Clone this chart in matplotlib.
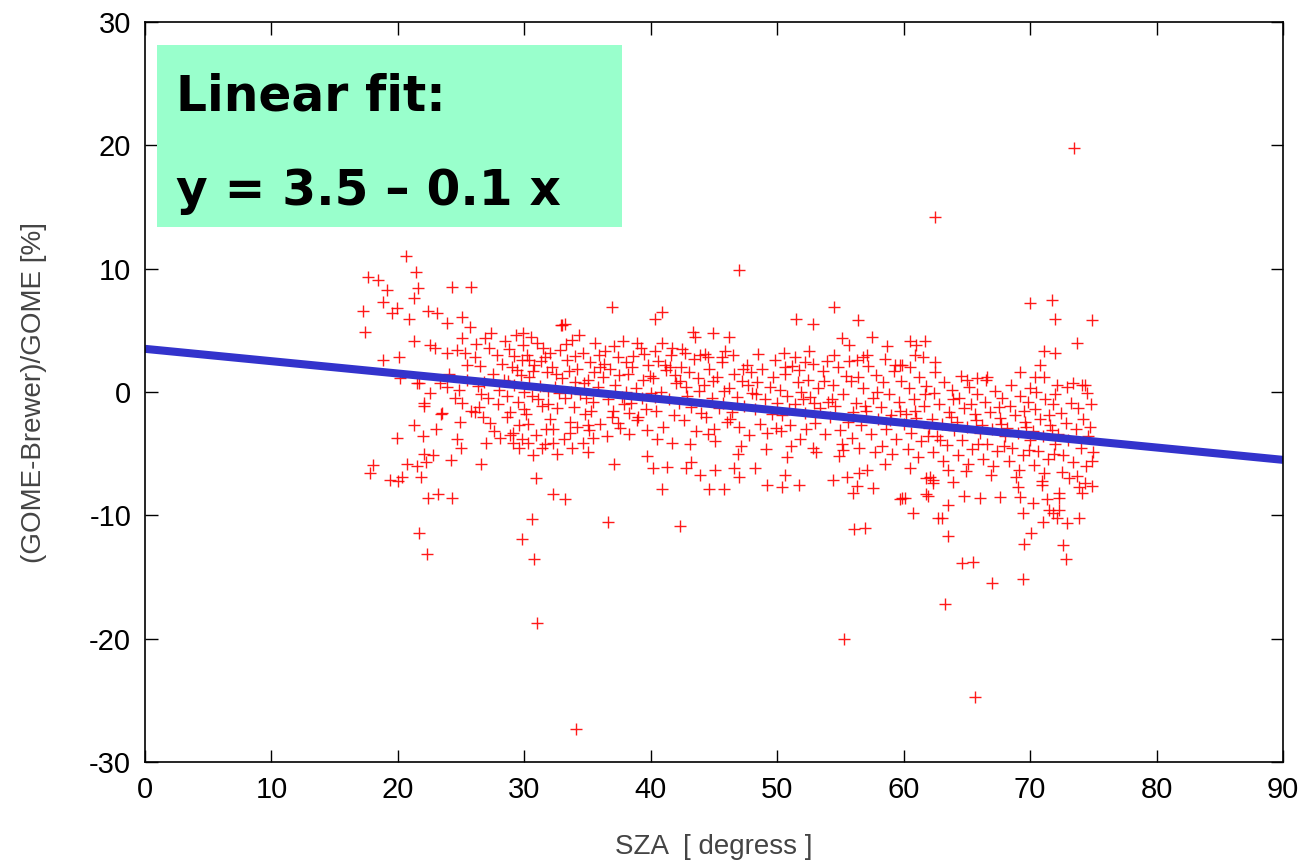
import matplotlib
matplotlib.use("Agg")
import matplotlib.pyplot as plt
from matplotlib.patches import Rectangle

# points, grouped by SZA range  (sza [deg], diff [%])
left_pts = [(17.6,9.3),(18.4,9.1),(20.6,11.0),(21.4,9.7),(19.1,8.3),(21.6,8.4),(21.3,7.6),(18.8,7.3),
    (24.3,8.5),(25.8,8.5),(17.2,6.6),(17.4,4.9),(19.5,6.4),(19.9,6.8),(20.9,5.9),(22.4,6.6),(23.1,6.4),
    (23.9,5.6),(25.1,6.1),(25.7,5.3),(21.3,4.1),(22.5,3.8),(22.9,3.6),(18.8,2.6),(20.1,2.8),(20.2,1.1),
    (21.5,0.7),(21.7,0.7),(22.5,-0.1),(22.1,-0.9),(21.3,-2.7),(23.5,-1.7),(24.9,-2.4),(23.9,3.2),(24.7,3.4),
    (25.3,3.2),(25.1,4.4),(23.3,0.7),(23.9,0.4),(21.7,-11.4),(22.3,-13.1),(18.0,-5.9),(17.8,-6.6),(19.4,-7.1),
    (20.0,-7.2),(20.3,-6.9),(21.8,-6.9),(20.7,-5.8),(21.5,-6.0),(22.2,-5.7),(22.8,-5.1),(22.1,-5.0),(19.9,-3.7),
    (22.0,-3.6),(23.4,-1.8),(24.7,-3.8),(25.0,-4.5),(22.4,-8.6),(23.2,-8.3),(24.3,-8.6),(22.1,-1.1),(25.1,-0.9),
    (24.0,1.5),(24.5,-0.5),(25.5,1.0),(25.8,-1.5),(23.0,-3.0),(24.2,-5.5),(25.5,2.2),(24.8,0.2)]

core_a = [(26.2,3.9),(26.5,2.1),(26.8,0.8),(27.1,-0.5),(26.4,-1.2),(27.5,1.5),(27.8,3.0),(26.9,4.4),(27.3,-2.5),
    (28.0,0.2),(27.6,-3.2),(26.1,2.8),(28.2,2.3),(27.9,-1.0),(26.6,-0.2),(27.2,3.6),(28.4,1.0),(28.6,-2.0),
    (26.3,0.5),(27.4,4.8),(28.8,3.5),(29.0,2.0),(29.2,0.6),(29.5,-0.8),(28.9,-1.6),(29.7,1.4),(29.9,3.8),
    (29.3,4.6),(29.6,-2.7),(30.0,0.0),(28.7,0.9),(29.1,-3.3),(29.8,2.6),(28.5,4.1),(29.4,1.8),(30.0,-1.4),
    (29.9,4.8),(28.6,-0.3),(29.2,2.9),(29.8,-3.8),(30.2,3.0),(30.4,1.2),(30.6,-0.3),(30.8,2.2),(31.0,4.0),
    (31.2,0.5),(31.4,-1.1),(31.6,2.8),(31.8,1.6),(32.0,-2.2),(30.3,-2.6),(30.9,-3.5),(31.5,3.6),(31.1,-0.6),
    (30.5,4.5),(31.9,0.1),(30.7,1.7),(31.3,2.5),(31.7,-3.0),(32.0,3.2),(30.1,-1.8),(31.6,-4.2),(30.4,2.6),
    (31.9,-1.0),(32.2,2.0),(32.4,0.4),(32.6,-1.3),(32.8,3.4),(33.0,1.1),(33.2,-0.5),(33.4,2.6),(33.6,-2.4),
    (33.8,4.2),(34.0,0.8),(32.3,-3.0),(32.9,5.4),(33.1,-3.8),(33.5,1.7),(33.9,-1.2),(32.5,1.5),(33.7,0.0),
    (34.0,2.9),(32.7,-0.1),(33.3,3.9),(34.2,1.9),(34.4,-0.2),(34.6,3.2),(34.8,-1.8),(35.0,1.0),(35.2,2.4),
    (35.4,-0.8),(35.6,4.0),(35.8,0.4),(36.0,-2.6),(34.3,4.6),(35.1,-3.1),(35.5,1.6),(35.9,3.0),(34.7,0.7),
    (35.3,-1.5),(36.0,2.0),(34.9,-0.5),(36.2,1.2),(36.4,3.3),(36.6,-0.6),(36.8,1.9),(37.0,-1.5),(37.2,0.6),
    (37.4,2.8),(37.6,-2.9),(37.8,4.1),(38.0,0.0),(36.5,-3.6),(37.1,3.7),(37.5,1.4),(37.9,-1.0),(36.3,2.3),
    (37.7,-0.4),(36.9,-2.0),(38.0,2.4),(38.2,1.5),(38.4,-0.9),(38.6,2.9),(38.8,0.3),(39.0,-2.0),(39.2,3.6),
    (39.4,1.0),(39.6,-1.4),(39.8,2.2),(40.0,-0.1),(38.3,-3.4),(38.9,4.0),(39.3,-0.5),(39.7,-3.1),(38.5,2.0),
    (39.9,1.3)]

core_b = [(40.2,1.1),(40.4,-1.5),(40.6,2.5),(40.8,0.0),(41.0,-2.8),(41.2,1.8),(41.4,-0.6),(41.6,3.0),(41.8,-1.9),
    (42.0,0.7),(40.5,-3.8),(41.1,2.2),(41.7,-4.1),(40.9,4.0),(41.9,1.4),(40.3,-0.4),(42.2,-0.9),(42.4,2.0),
    (42.6,-2.3),(42.8,0.4),(43.0,1.6),(43.2,-1.2),(43.4,2.7),(43.6,-3.2),(43.8,0.1),(44.0,-1.7),(42.5,3.5),
    (43.1,-4.2),(43.7,1.1),(42.3,0.9),(43.9,3.0),(42.9,-0.3),(44.2,0.6),(44.4,-2.0),(44.6,1.9),(44.8,-0.5),
    (45.0,-3.0),(45.2,1.2),(45.4,-1.3),(45.6,2.4),(45.8,0.1),(46.0,-2.4),(44.3,3.1),(45.1,-4.0),(45.7,-0.9),
    (44.9,0.9),(45.9,3.3),(44.5,-3.4),(46.2,0.3),(46.4,-1.6),(46.6,1.5),(46.8,-0.4),(47.0,-2.8),(47.2,0.9),
    (47.4,-1.1),(47.6,2.2),(47.8,-3.5),(48.0,-0.1),(46.5,3.0),(47.1,-4.4),(47.7,0.6),(46.3,-2.2),(47.9,1.6),
    (48.2,-1.4),(48.4,0.8),(48.6,-2.6),(48.8,1.9),(49.0,-0.6),(49.2,-3.3),(49.4,0.4),(49.6,-1.8),(49.8,2.6),
    (50.0,-0.9),(48.5,3.1),(49.1,-4.6),(49.7,1.2),(48.3,-0.2),(49.9,-2.9),(50.2,0.2),(50.4,-1.9),(50.6,1.5),
    (50.8,-0.3),(51.0,-2.7),(51.2,2.1),(51.4,-1.0),(51.6,0.8),(51.8,-3.8),(52.0,-0.6),(50.5,3.2),(51.1,-4.4),
    (51.7,1.8),(50.3,-3.2),(51.9,0.0),(50.9,-1.4),(52.2,-1.7),(52.4,1.0),(52.6,-0.4),(52.8,2.3),(53.0,-2.5),
    (53.2,0.3),(53.4,-1.3),(53.6,1.7),(53.8,-3.4),(54.0,-0.8),(52.5,3.3),(53.1,-4.9),(53.7,0.9),(52.3,-3.0),
    (53.9,2.5),(52.9,-0.9),(54.2,-2.0),(54.4,0.6),(54.6,-1.1),(54.8,2.0),(55.0,-3.1),(55.2,-0.2),(55.4,1.3),
    (55.6,-2.4),(55.8,0.9),(56.0,-1.6),(54.5,3.0),(55.1,-4.2),(55.7,2.5),(54.3,-0.6),(55.9,-3.7),(54.9,-5.2)]

core_c = [(56.2,-0.9),(56.4,1.2),(56.6,-2.7),(56.8,0.3),(57.0,-1.5),(57.2,2.1),(57.4,-3.4),(57.6,-0.5),(57.8,1.4),
    (58.0,-2.2),(56.5,-4.5),(57.1,3.0),(57.7,-4.9),(56.3,2.6),(57.9,0.0),(56.9,-1.1),(58.2,-1.2),(58.4,0.8),
    (58.6,-3.0),(58.8,-0.2),(59.0,-1.9),(59.2,1.7),(59.4,-3.8),(59.6,-0.8),(59.8,0.9),(60.0,-2.6),(58.5,2.7),
    (59.1,-5.0),(59.7,-1.5),(58.3,-4.4),(59.9,2.2),(58.9,-2.3),(60.2,-1.8),(60.4,0.3),(60.6,-3.3),(60.8,-0.6),
    (61.0,-2.1),(61.2,1.2),(61.4,-4.0),(61.6,-1.1),(61.8,0.5),(62.0,-2.9),(60.5,2.0),(61.1,-5.3),(61.7,-0.2),
    (60.3,-4.6),(61.9,-3.6),(60.9,-1.5),(61.5,2.8),(62.2,-2.2),(62.4,-0.1),(62.6,-3.6),(62.8,-1.0),(63.0,-2.6),
    (63.2,0.8),(63.4,-4.3),(63.6,-1.6),(63.8,0.2),(64.0,-3.1),(62.5,1.6),(63.1,-5.6),(63.7,-2.0),(62.3,-4.9),
    (63.9,-0.6),(62.9,-3.9),(63.5,-6.3),(64.2,-2.4),(64.4,-0.5),(64.6,-3.9),(64.8,-1.3),(65.0,-2.8),(65.2,0.4),
    (65.4,-4.6),(65.6,-1.8),(65.8,-0.2),(66.0,-3.3),(64.5,1.3),(65.1,-5.8),(65.7,-2.3),(64.3,-5.1),(65.9,-4.2),
    (64.9,-6.4),(65.3,-1.0),(66.2,-2.7),(66.4,-0.8),(66.6,-4.2),(66.8,-1.6),(67.0,-3.0),(67.2,0.1),(67.4,-4.8),
    (67.6,-2.1),(67.8,-0.5),(68.0,-3.6),(66.5,1.0),(67.1,-6.0),(67.7,-2.6),(66.3,-5.4),(67.9,-4.4),(66.9,-6.7),
    (67.5,-1.2),(68.2,-2.9),(68.4,-1.1),(68.6,-4.5),(68.8,-1.9),(69.0,-3.3),(69.2,-0.3),(69.4,-5.1),(69.6,-2.4),
    (69.8,-0.8),(70.0,-3.9),(68.5,0.6),(69.1,-6.3),(69.7,-2.8),(68.3,-5.6),(69.9,-4.7),(68.9,-6.9),(69.5,-1.5),
    (70.0,0.3),(70.2,-3.2),(70.4,-1.4),(70.6,-4.8),(70.8,-2.2),(71.0,-3.6),(71.2,-0.6),(71.4,-5.4),(71.6,-2.7),
    (71.8,-1.0),(72.0,-4.2),(70.5,0.0),(71.1,-6.6),(71.7,-3.1),(70.3,-5.9),(71.9,-5.0),(70.9,-7.2),(71.5,-1.9),
    (72.0,-0.2),(72.2,-3.4),(72.4,-1.7),(72.6,-5.1),(72.8,-2.5),(73.0,-3.9),(73.2,-0.9),(73.4,-5.7),(73.6,-3.0),
    (73.8,-1.3),(74.0,-4.5),(74.2,-2.2),(74.4,-6.0),(74.6,-3.6),(74.8,-1.0),(75.0,-4.9),(72.5,-6.5),(73.1,-7.0),
    (73.7,-6.8),(74.3,-7.4),(74.7,-2.8),(74.9,-5.6),(72.9,0.4),(74.1,0.6),(74.5,-0.1)]

outer_pts = [(73.5,19.8),(62.5,14.2),(47.0,9.9),(34.1,-27.3),(65.6,-24.7),(55.3,-20.0),(31.0,-18.7),(63.3,-17.2),
    (67.0,-15.5),(69.4,-15.2),(29.8,-11.9),(30.6,-10.3),(30.8,-13.5),(36.6,-10.5),(37.1,-5.8),(30.9,-7.0),
    (32.3,-8.3),(33.2,-8.7),(26.6,-5.8),(27.0,-4.1),(26.1,-1.6),(26.7,-2.0),(28.1,-3.7),(28.9,-3.5),(29.1,-4.1),
    (29.6,-4.5),(30.3,-4.1),(30.7,-5.1),(31.4,-4.5),(32.6,-5.0),(32.3,-4.1),(33.6,-3.3),(34.2,-2.8),(35.0,-2.7),
    (33.8,-4.5),(34.6,-4.1),(35.4,-3.7),(35.0,-4.9),(37.4,-2.5),(38.3,-1.7),(38.9,-2.3),(36.9,6.9),(33.0,5.4),
    (33.2,5.5),(40.3,5.9),(40.9,6.5),(43.3,4.9),(43.5,4.5),(44.9,4.8),(46.2,4.5),(41.7,3.6),(42.7,3.2),
    (40.3,3.3),(39.5,3.1),(54.5,6.9),(51.5,5.9),(52.8,5.5),(56.4,5.8),(55.1,4.4),(55.7,3.8),(57.5,4.5),
    (58.7,3.7),(60.5,4.1),(61.0,3.8),(61.7,4.1),(60.9,3.0),(44.5,2.8),(45.6,2.8),(51.4,2.8),(52.2,2.4),
    (50.6,2.0),(56.8,2.8),(59.3,2.2),(59.7,2.2),(62.5,2.4),(47.3,1.9),(41.5,2.0),(42.3,-10.9),(56.1,-11.1),
    (56.9,-11.0),(60.7,-9.8),(59.7,-8.7),(60.1,-8.6),(61.8,-8.3),(62.7,-10.2),(40.9,-7.9),(44.6,-7.9),
    (45.8,-7.9),(49.2,-7.5),(50.4,-7.7),(51.7,-7.5),(54.4,-7.1),(55.5,-6.9),(56.3,-7.6),(56.0,-8.2),
    (57.6,-7.8),(40.2,-6.2),(41.3,-6.1),(42.8,-6.2),(43.9,-6.7),(45.1,-6.3),(39.7,-5.2),(43.2,-5.7),
    (46.6,-6.2),(47.0,-6.9),(48.2,-6.2),(46.9,-5.0),(50.8,-5.3),(50.6,-6.7),(52.8,-4.5),(55.2,-4.7),
    (57.1,-6.3),(56.5,-6.6),(58.5,-5.8),(60.5,-6.2),(61.8,-7.0),(62.3,-7.4),(70.0,7.2),(71.7,7.5),(72.0,5.9),
    (74.9,5.8),(73.7,4.0),(71.1,3.3),(72.0,3.2),(70.8,2.2),(69.2,1.6),(70.4,1.2),(71.1,1.2),(73.4,0.7),
    (74.3,0.6),(72.1,0.6),(65.8,1.1),(66.6,1.2),(65.0,1.0),(64.6,-13.9),(65.5,-13.8),(72.8,-13.5),(72.6,-12.4),
    (69.5,-12.3),(70.1,-11.4),(63.5,-11.7),(63.0,-10.2),(63.5,-9.2),(71.8,-9.8),(72.1,-10.2),(71.5,-9.6),
    (72.3,-9.6),(72.9,-10.6),(73.9,-10.2),(71.0,-10.5),(69.4,-9.8),(70.2,-9.0),(69.2,-8.5),(72.3,-8.2),
    (71.3,-8.7),(72.3,-8.6),(74.1,-8.2),(74.9,-7.6),(73.9,-7.7),(66.0,-8.6),(67.6,-8.5),(64.8,-8.4),
    (61.9,-8.4),(59.9,-8.6),(69.0,-7.7),(70.9,-7.5),(63.9,-7.3),(62.3,-7.1),(62.1,-6.9)]

# linear fit  y = 3.5 - 0.1 x
fit_x = [0, 90]
fit_y = [3.5, -5.5]

all_pts = left_pts + core_a + core_b + core_c + outer_pts
sza = [p[0] for p in all_pts]
diff = [p[1] for p in all_pts]

plt.rcParams['font.family'] = ['Liberation Sans', 'DejaVu Sans']
plt.rcParams['axes.unicode_minus'] = False

fig = plt.figure(figsize=(13.03, 8.63), dpi=100)
ax = fig.add_axes([0.1113, 0.117, 0.8734, 0.8575])

ax.plot(sza, diff, linestyle='none', marker='+', color='#ff0000', markersize=8.5, markeredgewidth=1.0, alpha=0.9)
ax.plot(fit_x, fit_y, color='#3333cc', linewidth=5.8, solid_capstyle='butt')

ax.set_xlim(0, 90)
ax.set_ylim(-30, 30)
ax.set_xticks(range(0, 91, 10))
ax.set_yticks(range(-30, 31, 10))
ax.tick_params(direction='in', length=9, width=1, top=True, right=True, labelsize=21, pad=10)
for s in ax.spines.values():
    s.set_linewidth(1.2)

ax.set_xlabel('SZA  [ degress ]', fontsize=20, color='#444444', labelpad=22)
ax.set_ylabel('(GOME-Brewer)/GOME [%]', fontsize=20, color='#444444', labelpad=30)

# green annotation box
ax.add_patch(Rectangle((0.0105, 0.723), 0.4085, 0.246, transform=ax.transAxes,
                       facecolor='#99ffcc', edgecolor='none', zorder=3))
ax.text(0.027, 0.90, 'Linear fit:', transform=ax.transAxes, fontsize=35, fontweight='bold',
        family='DejaVu Sans', va='center', ha='left', zorder=4)
ax.text(0.027, 0.772, 'y = 3.5 \u2013 0.1 x', transform=ax.transAxes, fontsize=35, fontweight='bold',
        family='DejaVu Sans', va='center', ha='left', zorder=4)

fig.savefig('out.png', dpi=100)
